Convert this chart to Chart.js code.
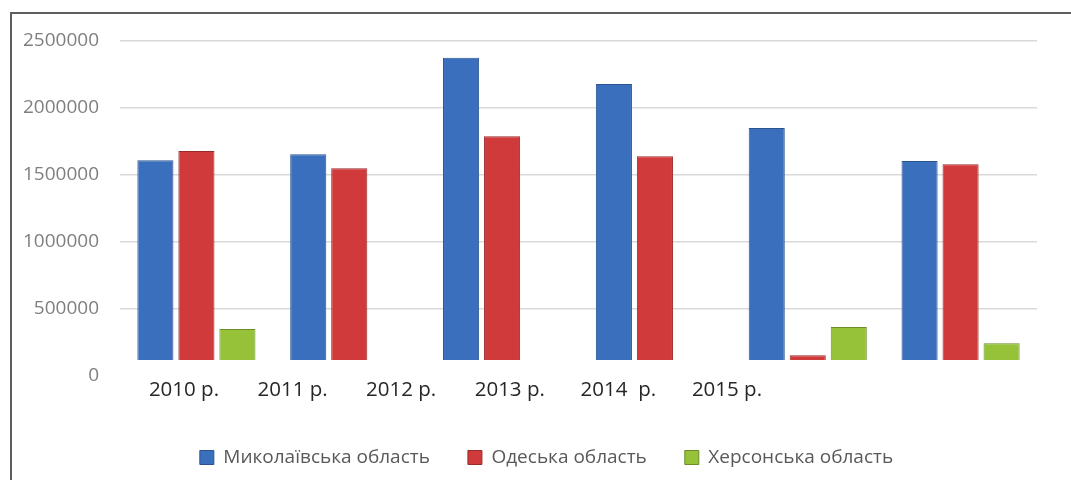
<!DOCTYPE html>
<html lang="uk">
<head>
<meta charset="utf-8">
<title>Області</title>
<script src="https://cdn.jsdelivr.net/npm/chart.js@4/dist/chart.umd.min.js"></script>
<style>
  html, body { margin: 0; padding: 0; background: #fff; overflow: hidden; }
  #frame {
    position: absolute; left: 10px; top: 12px; width: 1100px; height: 500px;
    border-left: 2px solid #5e5e5e; border-top: 2px solid #5e5e5e;
  }
  #wrap { position: absolute; left: 10px; top: 0; width: 1061px; height: 480px; }
</style>
</head>
<body>
<div id="frame"></div>
<div id="wrap"><canvas id="chart"></canvas></div>
<script>
// Дані
const categories = ['2010', '2011', '2012', '2013', '2014', '2015'];
const yearLabels = ['2010 р.', '2011 р.', '2012 р.', '2013 р.', '2014  р.', '2015 р.'];
const mykolaivValues = [1610000, 1655000, 2375000, 2180000, 1850000, 1605000];
const odesaValues = [1680000, 1550000, 1790000, 1640000, 155000, 1580000];
const khersonValues = [350000, null, null, null, 365000, 245000];
const yTicks = [0, 500000, 1000000, 1500000, 2000000, 2500000];

// "підлога" діаграми трохи вище нуля, як в оригіналі
const floorValue = 120000;
const font = "'Open Sans', 'Noto Sans', sans-serif";

function bars(label, data, fill, edge) {
  return {
    label,
    data,
    base: floorValue,
    backgroundColor: fill,
    borderColor: edge,
    borderWidth: 1,
    categoryPercentage: 0.805,
    barPercentage: 0.88,
  };
}

new Chart(document.getElementById('chart'), {
  type: 'bar',
  data: {
    labels: categories,
    datasets: [
      bars('Миколаївська область', mykolaivValues, '#3a6fbd', '#2b538f'),
      bars('Одеська область', odesaValues, '#d03a3a', '#982a2a'),
      bars('Херсонська область', khersonValues, '#96c23a', '#6b8c28'),
    ],
  },
  options: {
    responsive: true,
    maintainAspectRatio: false,
    animation: false,
    layout: { padding: { top: 41, right: 0, left: 12, bottom: 3 } },
    plugins: {
      tooltip: { enabled: false },
      legend: {
        position: 'bottom',
        labels: {
          boxWidth: 14,
          boxHeight: 14,
          padding: 38,
          color: '#595959',
          font: { family: font, size: 19 },
        },
      },
    },
    scales: {
      x: {
        type: 'category',
        grid: { display: false },
        border: { display: false },
        ticks: { display: false },
        afterFit: s => { s.height = 0; },
      },
      // підписи років зміщені відносно груп, як в оригіналі
      yr: {
        type: 'linear',
        position: 'bottom',
        offset: false,
        min: -0.589,
        max: 7.855,
        grid: { display: false, drawTicks: false },
        border: { display: false },
        afterBuildTicks: s => { s.ticks = yearLabels.map((_, i) => ({ value: i })); },
        ticks: {
          autoSkip: false,
          maxRotation: 0,
          padding: 2,
          color: '#262626',
          font: { family: font, size: 20.5 },
          callback: v => yearLabels[v],
        },
        afterFit: s => { s.height = 34; },
      },
      y: {
        min: 0,
        max: 2500000,
        afterBuildTicks: s => { s.ticks = yTicks.map(v => ({ value: v })); },
        grid: {
          drawTicks: false,
          color: c => (c.tick && c.tick.value === 0 ? 'rgba(0,0,0,0)' : '#d9d9d9'),
          lineWidth: 1.5,
        },
        border: { display: false },
        ticks: {
          padding: 21,
          color: '#7f7f7f',
          font: { family: font, size: 19 },
          callback: v => String(v),
        },
        afterFit: s => { s.width = 98; },
      },
      // порожнє місце праворуч від області побудови
      spacer: {
        type: 'linear',
        position: 'right',
        grid: { display: false },
        border: { display: false },
        ticks: { display: false },
        afterFit: s => { s.width = 34; },
      },
    },
  },
});
</script>
</body>
</html>
